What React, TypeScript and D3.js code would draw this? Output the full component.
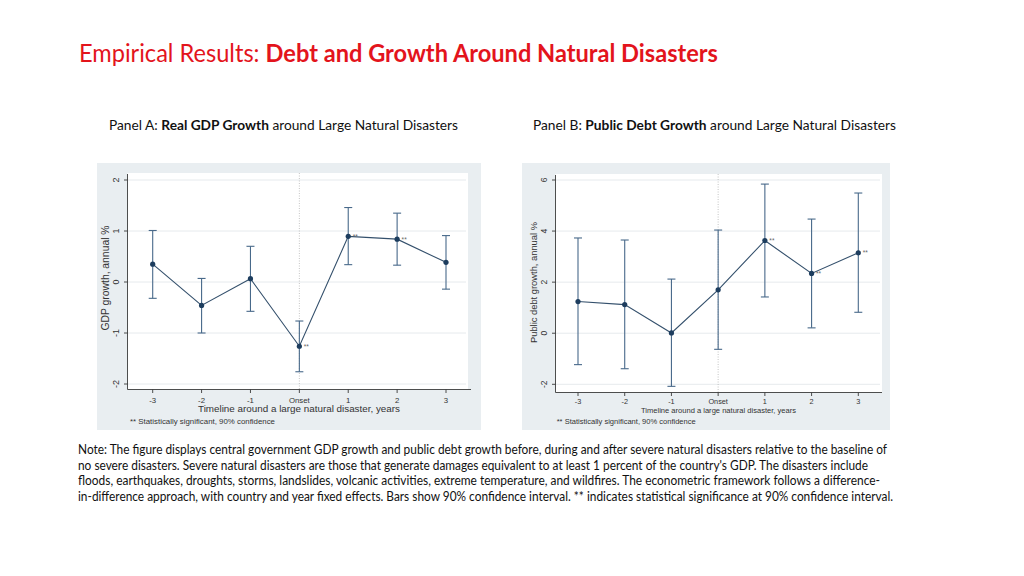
import React from "react";
import * as d3 from "d3";

const periods = ["-3", "-2", "-1", "Onset", "1", "2", "3"];

const gdpEstimate = [0.35, -0.46, 0.065, -1.26, 0.895, 0.84, 0.385];
const gdpUpper = [1.01, 0.07, 0.7, -0.765, 1.46, 1.35, 0.91];
const gdpLower = [-0.32, -1.0, -0.575, -1.76, 0.34, 0.33, -0.14];
const gdpSignificant = [false, false, false, true, true, true, false];
const gdpTicks = [-2, -1, 0, 1, 2];

const debtEstimate = [1.24, 1.12, 0.01, 1.7, 3.63, 2.34, 3.15];
const debtUpper = [3.73, 3.65, 2.12, 4.04, 5.84, 4.47, 5.49];
const debtLower = [-1.23, -1.39, -2.08, -0.63, 1.42, 0.21, 0.82];
const debtSignificant = [false, false, false, false, true, true, true];
const debtTicks = [-2, 0, 2, 4, 6];

const titleRegular = "Empirical Results: ";
const titleBold = "Debt and Growth Around Natural Disasters";
const noteLines = [
  "Note: The figure displays central government GDP growth and public debt growth before, during and after severe natural disasters relative to the baseline of",
  "no severe disasters. Severe natural disasters are those that generate damages equivalent to at least 1 percent of the country's GDP. The disasters include",
  "floods, earthquakes, droughts, storms, landslides, volcanic activities, extreme temperature, and wildfires. The econometric framework follows a difference-",
  "in-difference approach, with country and year fixed effects. Bars show 90% confidence interval. ** indicates statistical significance at 90% confidence interval.",
];

const SANS = "Lato, Carlito, Calibri, 'Open Sans', sans-serif";
const ARIAL = "'Liberation Sans', Arial, sans-serif";

type PanelProps = {
  est: number[];
  up: number[];
  lo: number[];
  sig: boolean[];
  ticks: number[];
  yDomain: [number, number];
  yTitle: string;
  layout: any;
};

function Panel({ est, up, lo, sig, ticks, yDomain, yTitle, layout: L }: PanelProps) {
  const x = d3.scalePoint<string>().domain(periods).range([L.x0, L.x1]);
  const y = d3.scaleLinear().domain(yDomain).range([L.yBottom, L.yTop]);
  const line = d3
    .line<number>()
    .x((_, i) => x(periods[i]) as number)
    .y((d) => y(d));
  const cap = 4;
  const markColor = "#1d3d5e";
  return (
    <g>
      <rect x={L.bgX} y={L.bgY} width={L.bgW} height={L.bgH} fill="#e9eef1" />
      <rect x={L.axX} y={L.plotTop} width={L.plotRight - L.axX} height={L.axY - L.plotTop} fill="#ffffff" />
      {ticks.map((t) => (
        <line key={"g" + t} x1={L.axX} x2={L.plotRight - 2} y1={y(t)} y2={y(t)} stroke="#e6eaed" strokeWidth={1} />
      ))}
      <line
        x1={x("Onset")}
        x2={x("Onset")}
        y1={L.plotTop}
        y2={L.axY}
        stroke="#b5b5b5"
        strokeWidth={0.8}
        strokeDasharray="1,1.5"
      />
      <line x1={L.axX} x2={L.axX} y1={L.plotTop + 1} y2={L.axY} stroke="#3a3a3a" strokeWidth={0.9} />
      <line x1={L.axX} x2={L.axRight} y1={L.axY} y2={L.axY} stroke="#3a3a3a" strokeWidth={0.9} />
      {ticks.map((t) => (
        <g key={"t" + t}>
          <line x1={L.axX - 3.5} x2={L.axX} y1={y(t)} y2={y(t)} stroke="#3a3a3a" strokeWidth={0.9} />
          <text
            transform={`translate(${L.yLabX},${y(t)}) rotate(-90)`}
            textAnchor="middle"
            fontFamily={ARIAL}
            fontSize={L.yTickFont}
            fill="#333"
          >
            {t}
          </text>
        </g>
      ))}
      {periods.map((p) => (
        <g key={"x" + p}>
          <line x1={x(p)} x2={x(p)} y1={L.axY} y2={L.axY + 3.5} stroke="#3a3a3a" strokeWidth={0.9} />
          <text x={x(p)} y={L.xLabY} textAnchor="middle" fontFamily={ARIAL} fontSize={L.tickFont} fill="#333">
            {p}
          </text>
        </g>
      ))}
      <text
        transform={`translate(${L.yTitleX},${L.yTitleY}) rotate(-90)`}
        textAnchor="middle"
        fontFamily={ARIAL}
        fontSize={L.yTitleFont}
        fill="#333"
        textLength={L.yTitleLen}
        lengthAdjust="spacingAndGlyphs"
      >
        {yTitle}
      </text>
      <text
        x={L.xTitleX}
        y={L.xTitleY}
        textAnchor="middle"
        fontFamily={ARIAL}
        fontSize={L.xTitleFont}
        fill="#333"
        textLength={L.xTitleLen}
        lengthAdjust="spacingAndGlyphs"
      >
        Timeline around a large natural disaster, years
      </text>
      <text
        x={L.noteX}
        y={L.noteY}
        fontFamily={ARIAL}
        fontSize={L.noteFont}
        fill="#333"
        textLength={L.noteLen}
        lengthAdjust="spacingAndGlyphs"
      >
        ** Statistically significant, 90% confidence
      </text>
      {periods.map((p, i) => (
        <g key={"e" + p} stroke="#48698a" strokeWidth={1.1}>
          <line x1={x(p)} x2={x(p)} y1={y(up[i])} y2={y(lo[i])} />
          <line x1={(x(p) as number) - cap} x2={(x(p) as number) + cap} y1={y(up[i])} y2={y(up[i])} />
          <line x1={(x(p) as number) - cap} x2={(x(p) as number) + cap} y1={y(lo[i])} y2={y(lo[i])} />
        </g>
      ))}
      <path d={line(est) || ""} fill="none" stroke="#34506c" strokeWidth={1.1} />
      {periods.map((p, i) => (
        <circle key={"c" + p} cx={x(p)} cy={y(est[i])} r={2.6} fill={markColor} />
      ))}
      {periods.map((p, i) =>
        sig[i] ? (
          <text key={"s" + p} x={(x(p) as number) + 4.5} y={y(est[i]) + 2.5} fontFamily={ARIAL} fontSize={6.5} fill="#666">
            **
          </text>
        ) : null
      )}
    </g>
  );
}

const layoutA = {
  bgX: 97, bgY: 163, bgW: 384, bgH: 267,
  x0: 152.7, x1: 446,
  yBottom: 384, yTop: 180,
  axX: 127.5, axY: 389.5, axRight: 471, plotTop: 173, plotRight: 468,
  yLabX: 119, xLabY: 402.5, tickFont: 7.8, yTickFont: 9,
  yTitleX: 108.5, yTitleY: 278, yTitleFont: 10, yTitleLen: 105,
  xTitleX: 299, xTitleY: 412, xTitleFont: 9.3, xTitleLen: 202,
  noteX: 130, noteY: 423.5, noteFont: 7, noteLen: 145,
};

const layoutB = {
  bgX: 522, bgY: 163, bgW: 368, bgH: 267,
  x0: 578, x1: 858.3,
  yBottom: 384.3, yTop: 180,
  axX: 555.5, axY: 392.5, axRight: 882, plotTop: 174, plotRight: 882,
  yLabX: 546.5, xLabY: 404.3, tickFont: 7.3, yTickFont: 8.5,
  yTitleX: 536.5, yTitleY: 282.5, yTitleFont: 9.5, yTitleLen: 121,
  xTitleX: 718.5, xTitleY: 412.5, xTitleFont: 7.1, xTitleLen: 155,
  noteX: 556.7, noteY: 423.8, noteFont: 6.8, noteLen: 139,
};

export default function App() {
  return (
    <svg
      width={1024}
      height={576}
      style={{ position: "absolute", left: 0, top: 0, background: "#ffffff" }}
    >
      <rect x={0} y={0} width={1024} height={576} fill="#ffffff" />
      <text x={79} y={62} fontFamily={SANS} fontSize={25} fill="#e3141c" textLength={639} lengthAdjust="spacingAndGlyphs">
        <tspan fontWeight={400}>{titleRegular}</tspan>
        <tspan fontWeight={700}>{titleBold}</tspan>
      </text>
      <text x={109} y={130} fontFamily={SANS} fontSize={13.5} fill="#111" textLength={349} lengthAdjust="spacingAndGlyphs">
        <tspan>Panel A: </tspan>
        <tspan fontWeight="bold">Real GDP Growth</tspan>
        <tspan> around Large Natural Disasters</tspan>
      </text>
      <text x={533} y={130} fontFamily={SANS} fontSize={13.5} fill="#111" textLength={363} lengthAdjust="spacingAndGlyphs">
        <tspan>Panel B: </tspan>
        <tspan fontWeight="bold">Public Debt Growth</tspan>
        <tspan> around Large Natural Disasters</tspan>
      </text>
      <Panel
        est={gdpEstimate}
        up={gdpUpper}
        lo={gdpLower}
        sig={gdpSignificant}
        ticks={gdpTicks}
        yDomain={[-2, 2]}
        yTitle="GDP growth, annual %"
        layout={layoutA}
      />
      <Panel
        est={debtEstimate}
        up={debtUpper}
        lo={debtLower}
        sig={debtSignificant}
        ticks={debtTicks}
        yDomain={[-2, 6]}
        yTitle="Public debt growth, annual %"
        layout={layoutB}
      />
      {noteLines.map((t, i) => (
        <text
          key={i}
          x={78}
          y={454 + i * 15.6}
          fontFamily={SANS}
          fontSize={12.5}
          fill="#111"
          textLength={[809, 790, 802, 815][i]}
          lengthAdjust="spacingAndGlyphs"
        >
          {t}
        </text>
      ))}
    </svg>
  );
}
